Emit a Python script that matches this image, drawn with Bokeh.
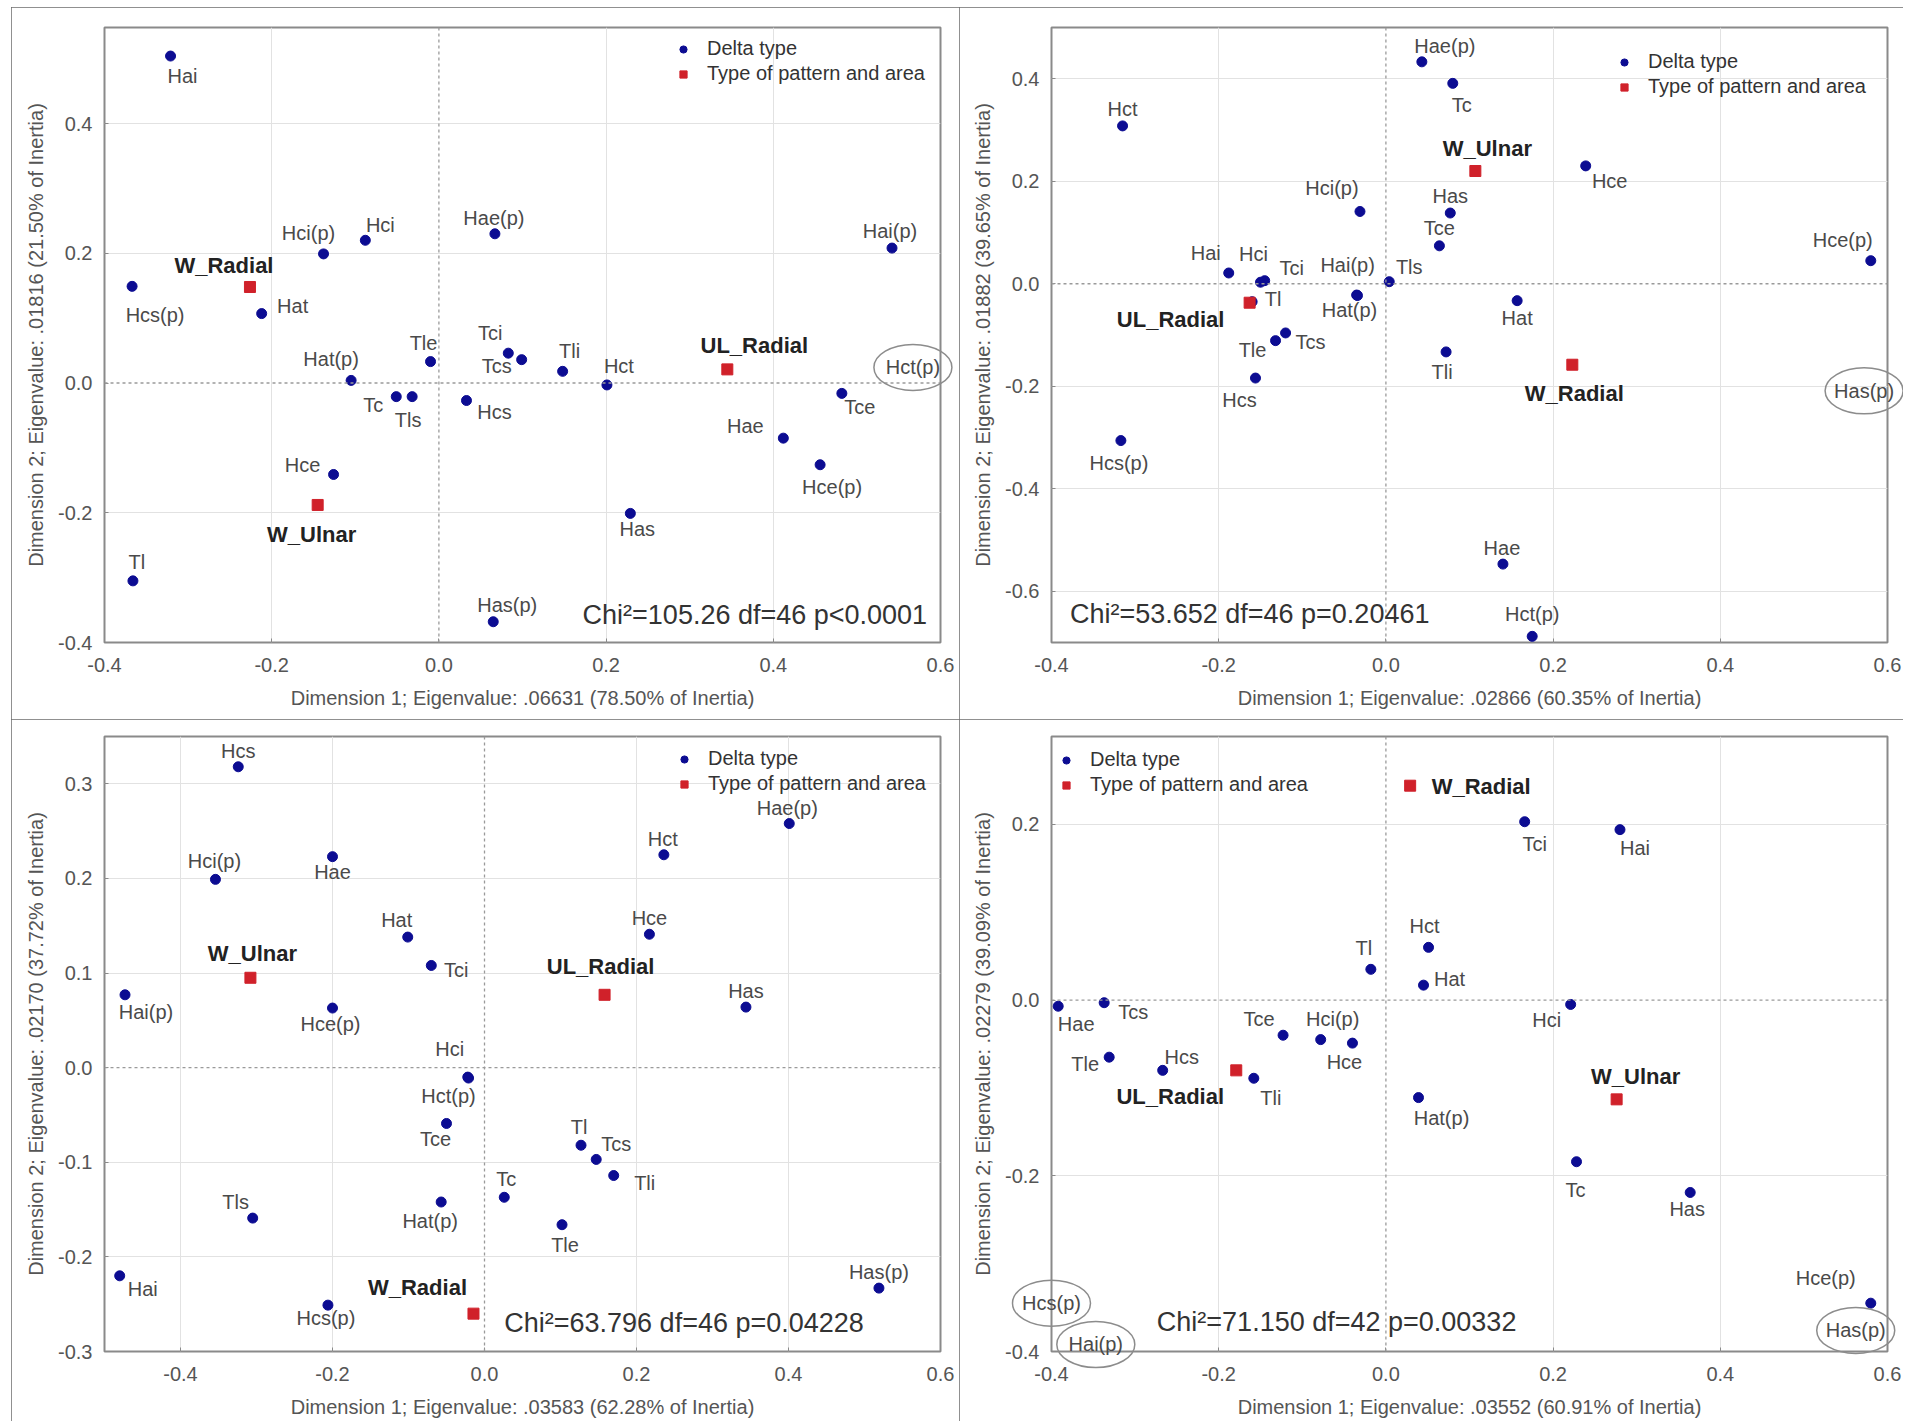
import numpy as np
from bokeh.plotting import figure
from bokeh.models import (ColumnDataSource, LabelSet, Label, Legend, LegendItem,
                          FixedTicker, Span)
from bokeh.layouts import column, row
from bokeh.core.properties import value
from bokeh.embed import file_html
from bokeh.resources import INLINE

# ---------------------------------------------------------------- data
legend_labels = ["Delta type", "Type of pattern and area"]
x_tick_labels = ["-0.4", "-0.2", "0.0", "0.2", "0.4", "0.6"]

# Panel 1
p1_names = ["Hai", "Hcs(p)", "Hat", "Hci(p)", "Hci", "Hae(p)", "Hai(p)", "Hat(p)", "Tle", "Tc",
            "Tls", "Tci", "Tcs", "Tli", "Hct", "Hcs", "Tce", "Hae", "Hce(p)", "Hce", "Has", "Tl", "Has(p)"]
p1_x = [-0.321, -0.367, -0.212, -0.138, -0.088, 0.067, 0.542, -0.105, -0.010, -0.051,
        -0.032, 0.083, 0.099, 0.148, 0.201, 0.033, 0.482, 0.412, 0.456, -0.126, 0.229, -0.366, 0.065]
p1_y = [0.504, 0.149, 0.107, 0.199, 0.220, 0.230, 0.208, 0.004, 0.033, -0.021,
        -0.021, 0.046, 0.036, 0.018, -0.003, -0.027, -0.016, -0.085, -0.126, -0.141, -0.201, -0.305, -0.368]
p1_grp_names = ["W_Radial", "UL_Radial", "W_Ulnar"]
p1_grp_x = [-0.226, 0.345, -0.145]
p1_grp_y = [0.148, 0.021, -0.188]
p1_out_names = ["Hct(p)"]
p1_out_x = [0.567]
p1_out_y = [0.024]
p1_chi = "Chi²=105.26 df=46 p<0.0001"
p1_xlabel = "Dimension 1; Eigenvalue: .06631 (78.50% of Inertia)"
p1_ylabel = "Dimension 2; Eigenvalue: .01816 (21.50% of Inertia)"
p1_y_tick_labels = ["-0.4", "-0.2", "0.0", "0.2", "0.4"]

# Panel 2
p2_names = ["Hae(p)", "Tc", "Hct", "Hce", "Hci(p)", "Has", "Tce", "Hce(p)", "Hai", "Hci", "Tci",
            "Hai(p)", "Hat(p)", "Tls", "Tl", "Hat", "Tcs", "Tle", "Tli", "Hcs", "Hcs(p)", "Hae", "Hct(p)"]
p2_x = [0.043, 0.080, -0.315, 0.239, -0.031, 0.077, 0.064, 0.580, -0.188, -0.150, -0.145,
        -0.035, -0.034, 0.004, -0.160, 0.157, -0.120, -0.132, 0.072, -0.156, -0.317, 0.140, 0.175]
p2_y = [0.433, 0.391, 0.308, 0.230, 0.141, 0.138, 0.074, 0.045, 0.021, 0.003, 0.006,
        -0.022, -0.023, 0.004, -0.035, -0.033, -0.096, -0.111, -0.133, -0.184, -0.306, -0.547, -0.688]
p2_grp_names = ["W_Ulnar", "UL_Radial", "W_Radial"]
p2_grp_x = [0.107, -0.163, 0.223]
p2_grp_y = [0.220, -0.037, -0.158]
p2_out_names = ["Has(p)"]
p2_out_x = [0.572]
p2_out_y = [-0.209]
p2_chi = "Chi²=53.652 df=46 p=0.20461"
p2_xlabel = "Dimension 1; Eigenvalue: .02866 (60.35% of Inertia)"
p2_ylabel = "Dimension 2; Eigenvalue: .01882 (39.65% of Inertia)"
p2_y_tick_labels = ["-0.6", "-0.4", "-0.2", "0.0", "0.2", "0.4"]

# Panel 3
p3_names = ["Hcs", "Hci(p)", "Hae", "Hae(p)", "Hct", "Hce", "Hat", "Tci", "Has", "Hai(p)", "Hce(p)",
            "Hci", "Hct(p)", "Tce", "Tl", "Tcs", "Tli", "Tc", "Hat(p)", "Tls", "Tle", "Hai", "Hcs(p)", "Has(p)"]
p3_x = [-0.324, -0.354, -0.200, 0.401, 0.236, 0.217, -0.101, -0.070, 0.344, -0.473, -0.200,
        -0.022, -0.021, -0.050, 0.127, 0.147, 0.170, 0.026, -0.057, -0.305, 0.102, -0.480, -0.206, 0.519]
p3_y = [0.318, 0.199, 0.223, 0.258, 0.225, 0.141, 0.138, 0.108, 0.064, 0.077, 0.063,
        -0.010, -0.011, -0.059, -0.082, -0.097, -0.114, -0.137, -0.142, -0.159, -0.166, -0.220, -0.251, -0.233]
p3_grp_names = ["W_Ulnar", "UL_Radial", "W_Radial"]
p3_grp_x = [-0.308, 0.158, -0.0145]
p3_grp_y = [0.095, 0.077, -0.260]
p3_out_names = []
p3_out_x = []
p3_out_y = []
p3_chi = "Chi²=63.796 df=46 p=0.04228"
p3_xlabel = "Dimension 1; Eigenvalue: .03583 (62.28% of Inertia)"
p3_ylabel = "Dimension 2; Eigenvalue: .02170 (37.72% of Inertia)"
p3_y_tick_labels = ["-0.3", "-0.2", "-0.1", "0.0", "0.1", "0.2", "0.3"]

# Panel 4
p4_names = ["Tci", "Hai", "Hct", "Tl", "Hat", "Hae", "Tcs", "Hci", "Tce", "Hci(p)", "Hce", "Tle",
            "Hcs", "Tli", "Hat(p)", "Tc", "Has", "Hce(p)"]
p4_x = [0.166, 0.280, 0.051, -0.018, 0.045, -0.392, -0.337, 0.221, -0.123, -0.078, -0.040, -0.331,
        -0.267, -0.158, 0.039, 0.228, 0.364, 0.580]
p4_y = [0.203, 0.194, 0.060, 0.035, 0.017, -0.007, -0.003, -0.005, -0.040, -0.045, -0.049, -0.065,
        -0.080, -0.089, -0.111, -0.184, -0.219, -0.345]
p4_grp_names = ["W_Radial", "UL_Radial", "W_Ulnar"]
p4_grp_x = [0.029, -0.179, 0.276]
p4_grp_y = [0.244, -0.080, -0.113]
p4_out_names = ["Hcs(p)", "Hai(p)", "Has(p)"]
p4_out_x = [-0.400, -0.347, 0.562]
p4_out_y = [-0.345, -0.392, -0.376]
p4_chi = "Chi²=71.150 df=42 p=0.00332"
p4_xlabel = "Dimension 1; Eigenvalue: .03552 (60.91% of Inertia)"
p4_ylabel = "Dimension 2; Eigenvalue: .02279 (39.09% of Inertia)"
p4_y_tick_labels = ["-0.4", "-0.2", "0.0", "0.2"]

# ---------------------------------------------------------------- styling / placement
FONT = "Liberation Sans"
BLUE = "#0c0c92"
RED = "#d0212a"
TXT = "#4a4a4a"
FRAME_W, FRAME_H = 836, 615

# label offsets in screen px (dx right, dy down), per panel
OFFS = [
    {"Hai": (12, 20), "Hcs(p)": (23, 29), "Hat": (31, -8), "Hci(p)": (-15, -21), "Hci": (15, -15),
     "Hae(p)": (-1, -16), "Hai(p)": (-2, -17), "Hat(p)": (-20, -21), "Tle": (-7, -19), "Tc": (-23, 8),
     "Tls": (-4, 23), "Tci": (-18, -20), "Tcs": (-25, 6), "Tli": (7, -20), "Hct": (12, -19),
     "Hcs": (28, 11), "Tce": (18, 14), "Hae": (-38, -12), "Hce(p)": (12, 22), "Hce": (-31, -9),
     "Has": (7, 16), "Tl": (4, -19), "Has(p)": (14, -17),
     "W_Radial": (-26, -21), "UL_Radial": (27, -24), "W_Ulnar": (-6, 30)},
    {"Hae(p)": (23, -16), "Tc": (9, 22), "Hct": (0, -17), "Hce": (24, 15), "Hci(p)": (-28, -23),
     "Has": (0, -17), "Tce": (0, -18), "Hce(p)": (-28, -21), "Hai": (-23, -20), "Hci": (-7, -28),
     "Tci": (27, -13), "Hai(p)": (-9, -30), "Hat(p)": (-8, 14), "Tls": (20, -15), "Tl": (21, -3),
     "Hat": (0, 17), "Tcs": (25, 9), "Tle": (-23, 9), "Tli": (-4, 20), "Hcs": (-16, 22),
     "Hcs(p)": (-2, 22), "Hae": (-1, -16), "Hct(p)": (0, -22),
     "W_Ulnar": (12, -23), "UL_Radial": (-79, 17), "W_Radial": (2, 29)},
    {"Hcs": (0, -16), "Hci(p)": (-1, -18), "Hae": (0, 15), "Hae(p)": (-2, -16), "Hct": (-1, -16),
     "Hce": (0, -16), "Hat": (-11, -17), "Tci": (25, 5), "Has": (0, -16), "Hai(p)": (21, 17),
     "Hce(p)": (-2, 16), "Hci": (-18, -28), "Hct(p)": (-20, 18), "Tce": (-11, 16), "Tl": (-2, -18),
     "Tcs": (20, -15), "Tli": (31, 7), "Tc": (2, -18), "Hat(p)": (-11, 19), "Tls": (-17, -16),
     "Tle": (3, 20), "Hai": (23, 13), "Hcs(p)": (-2, 13), "Has(p)": (0, -16),
     "W_Ulnar": (2, -24), "UL_Radial": (-4, -28), "W_Radial": (-56, -26)},
    {"Tci": (10, 22), "Hai": (15, 18), "Hct": (-4, -21), "Tl": (-7, -21), "Hat": (26, -6),
     "Hae": (18, 18), "Tcs": (29, 9), "Hci": (-24, 16), "Tce": (-24, -16), "Hci(p)": (12, -21),
     "Hce": (-8, 19), "Tle": (-24, 7), "Hcs": (19, -13), "Tli": (17, 20), "Hat(p)": (23, 20),
     "Tc": (-1, 28), "Has": (-3, 17), "Hce(p)": (-45, -25),
     "W_Radial": (71, 1), "UL_Radial": (-66, 26), "W_Ulnar": (19, -23)},
]

# borders: (left, right, top, bottom)
LAYOUT = [
    dict(xr=(-0.4, 0.6), yr=(-0.4, 0.548), bd=(93, 19, 20, 77), leg=(566, 553),
         chi=(0.584, -0.358, "right")),
    dict(xr=(-0.4, 0.6), yr=(-0.7, 0.5), bd=(92, 16, 20, 77), leg=(560, 540),
         chi=(-0.378, -0.645, "left")),
    dict(xr=(-0.5, 0.6), yr=(-0.3, 0.35), bd=(93, 19, 17, 70), leg=(567, 552),
         chi=(0.026, -0.270, "left")),
    dict(xr=(-0.4, 0.6), yr=(-0.4, 0.3), bd=(92, 16, 17, 70), leg=(2, 551),
         chi=(-0.274, -0.366, "left")),
]

PANELS = [
    (p1_names, p1_x, p1_y, p1_grp_names, p1_grp_x, p1_grp_y, p1_out_names, p1_out_x, p1_out_y,
     p1_chi, p1_xlabel, p1_ylabel, p1_y_tick_labels),
    (p2_names, p2_x, p2_y, p2_grp_names, p2_grp_x, p2_grp_y, p2_out_names, p2_out_x, p2_out_y,
     p2_chi, p2_xlabel, p2_ylabel, p2_y_tick_labels),
    (p3_names, p3_x, p3_y, p3_grp_names, p3_grp_x, p3_grp_y, p3_out_names, p3_out_x, p3_out_y,
     p3_chi, p3_xlabel, p3_ylabel, p3_y_tick_labels),
    (p4_names, p4_x, p4_y, p4_grp_names, p4_grp_x, p4_grp_y, p4_out_names, p4_out_x, p4_out_y,
     p4_chi, p4_xlabel, p4_ylabel, p4_y_tick_labels),
]


def make_panel(i):
    (names, xs, ys, gnames, gx, gy, onames, ox, oy, chi, xlab, ylab, ytl) = PANELS[i]
    L = LAYOUT[i]
    offs = OFFS[i]
    bl, br, bt, bb = L["bd"]
    p = figure(frame_width=FRAME_W, frame_height=FRAME_H, x_range=L["xr"], y_range=L["yr"],
               output_backend="svg", toolbar_location=None,
               min_border_left=bl, min_border_right=br, min_border_top=bt, min_border_bottom=bb,
               styles={"outline": "2px solid #6b6b6b", "outline-offset": "-2px"})
    p.background_fill_color = "white"
    p.border_fill_color = "white"
    p.outline_line_color = "#8a8a8a"
    p.outline_line_width = 2

    xt = [float(s) for s in x_tick_labels]
    yt = [float(s) for s in ytl]
    p.xaxis.ticker = FixedTicker(ticks=xt)
    p.yaxis.ticker = FixedTicker(ticks=yt)
    p.xaxis.major_label_overrides = {v: s for v, s in zip(xt, x_tick_labels)}
    p.yaxis.major_label_overrides = {v: s for v, s in zip(yt, ytl)}
    p.xgrid.ticker = FixedTicker(ticks=[v for v in xt if v != 0])
    p.ygrid.ticker = FixedTicker(ticks=[v for v in yt if v != 0])
    for g in (p.xgrid, p.ygrid):
        g.grid_line_color = "#e2e2e2"
        g.grid_line_width = 1
    for ax in (p.xaxis, p.yaxis):
        ax.axis_line_color = None
        ax.major_tick_in = 4
        ax.major_tick_out = 0
        ax.major_tick_line_color = "#8a8a8a"
        ax.minor_tick_line_color = None
        ax.major_label_text_font = FONT
        ax.major_label_text_font_size = "20px"
        ax.major_label_text_color = "#555555"
        ax.axis_label_text_font = FONT
        ax.axis_label_text_font_size = "20px"
        ax.axis_label_text_font_style = "normal"
        ax.axis_label_text_color = "#555555"
    p.xaxis.axis_label = xlab
    p.yaxis.axis_label = ylab
    p.xaxis.major_label_standoff = 15
    p.xaxis.axis_label_standoff = 12
    p.yaxis.major_label_standoff = 12
    p.yaxis.axis_label_standoff = 8

    for dim in ("width", "height"):
        p.add_layout(Span(location=0, dimension=dim, line_color="#9a9a9a",
                          line_dash="3 3", line_width=1.3))

    src = ColumnDataSource(dict(x=xs, y=ys, t=names,
                                dx=[offs[n][0] for n in names],
                                dy=[-offs[n][1] for n in names]))
    gsrc = ColumnDataSource(dict(x=gx, y=gy, t=gnames,
                                 dx=[offs[n][0] for n in gnames],
                                 dy=[-offs[n][1] for n in gnames]))
    r_pts = p.scatter("x", "y", source=src, marker="circle", size=10,
                      fill_color=BLUE, line_color=BLUE)
    r_grp = p.scatter("x", "y", source=gsrc, marker="square", size=11,
                      fill_color=RED, line_color=RED)

    p.add_layout(LabelSet(x="x", y="y", text="t", source=src, x_offset="dx", y_offset="dy",
                          text_align="center", text_baseline="middle", text_font=value(FONT),
                          text_font_size="20px", text_color=TXT))
    p.add_layout(LabelSet(x="x", y="y", text="t", source=gsrc, x_offset="dx", y_offset="dy",
                          text_align="center", text_baseline="middle", text_font=value(FONT),
                          text_font_size="22px", text_font_style="bold", text_color="#222222"))

    # points lying beyond the plotted range: circled labels (overlay level, not clipped)
    if onames:
        osrc = ColumnDataSource(dict(x=ox, y=oy, t=onames))
        p.ellipse("x", "y", source=osrc, width=78, height=46, width_units="screen",
                  height_units="screen", fill_alpha=0, line_color="#8c8c8c", line_width=1.5,
                  level="overlay")
        p.text("x", "y", text="t", source=osrc, text_align="center", text_baseline="middle",
               text_font=value(FONT), text_font_size="20px", text_color=TXT, level="overlay")

    cx, cy, al = L["chi"]
    p.add_layout(Label(x=cx, y=cy, text=chi, text_align=al, text_baseline="middle",
                       text_font=FONT, text_font_size="27px", text_color="#333333"))

    leg = Legend(items=[LegendItem(label=legend_labels[0], renderers=[r_pts]),
                        LegendItem(label=legend_labels[1], renderers=[r_grp])],
                 location=L["leg"], orientation="vertical",
                 label_text_font=FONT, label_text_font_size="20px", label_text_color="#333333",
                 glyph_width=18, glyph_height=18, label_standoff=15, spacing=2, padding=4,
                 margin=0, background_fill_alpha=0, border_line_alpha=0, label_height=21)
    p.add_layout(leg)
    return p


figs = [make_panel(i) for i in range(4)]
layout = column(row(figs[0], figs[1]), row(figs[2], figs[3]), margin=(7, 0, 0, 11))
open("out.html", "w").write(file_html(layout, INLINE))
